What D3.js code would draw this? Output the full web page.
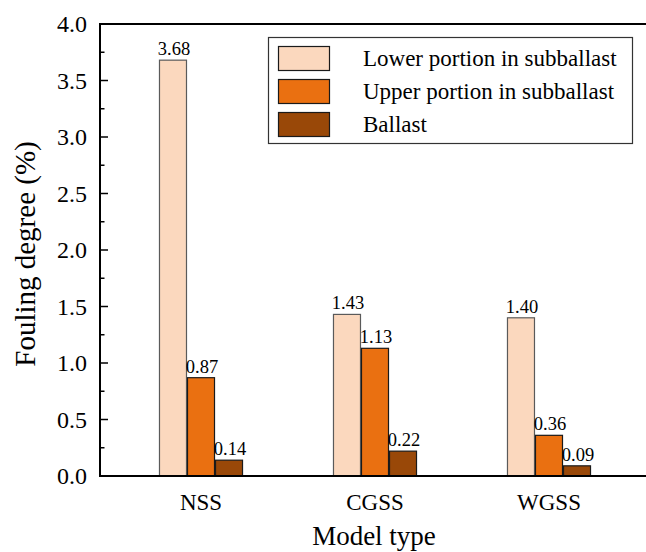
<!DOCTYPE html>
<html>
<head>
<meta charset="utf-8">
<script src="https://cdn.jsdelivr.net/npm/d3@7"></script>
<style>
  body { margin: 0; background: #fff; }
  svg { display: block; font-family: "Liberation Serif", "Times New Roman", serif; }
</style>
</head>
<body>
<svg id="chart" width="646" height="552"></svg>
<script>
const categories = ["NSS", "CGSS", "WGSS"];
const seriesNames = ["Lower portion in subballast", "Upper portion in subballast", "Ballast"];
const lowerValues = [3.68, 1.43, 1.40];
const upperValues = [0.87, 1.13, 0.36];
const ballastValues = [0.14, 0.22, 0.09];
const valueLabels = [["3.68", "1.43", "1.40"], ["0.87", "1.13", "0.36"], ["0.14", "0.22", "0.09"]];
const yTicks = [0, 0.5, 1, 1.5, 2, 2.5, 3, 3.5, 4];
const yMinorTicks = [0.25, 0.75, 1.25, 1.75, 2.25, 2.75, 3.25, 3.75];

const colors = ["#fbd8be", "#ea7011", "#994808"];
const strokes = ["#5a5a5a", "#1a1a1a", "#1a1a1a"];

const svg = d3.select("#chart");
const plotLeft = 100, plotTop = 24, plotBottom = 476, plotRight = 650;

const y = d3.scaleLinear().domain([0, 4]).range([plotBottom, plotTop]);
const x0 = d3.scaleBand().domain(categories).range([plotLeft, plotRight])
  .paddingInner(0.517).paddingOuter(0.339);
const x1 = d3.scaleBand().domain([0, 1, 2]).range([0, x0.bandwidth()]);

const rows = categories.map((c, i) => ({
  cat: c,
  vals: [lowerValues[i], upperValues[i], ballastValues[i]],
  idx: i
}));

// bars
const groups = svg.append("g").selectAll("g")
  .data(rows)
  .join("g")
  .attr("transform", d => `translate(${x0(d.cat)},0)`);

groups.selectAll("rect")
  .data(d => d.vals.map((v, s) => ({ v, s, i: d.idx })))
  .join("rect")
  .attr("x", d => x1(d.s) + 0.5)
  .attr("y", d => y(d.v))
  .attr("width", x1.bandwidth() - 1)
  .attr("height", d => y(0) - y(d.v))
  .attr("fill", d => colors[d.s])
  .attr("stroke", d => strokes[d.s])
  .attr("stroke-width", 1.2);

groups.selectAll("text")
  .data(d => d.vals.map((v, s) => ({ v, s, i: d.idx })))
  .join("text")
  .attr("x", d => x1(d.s) + x1.bandwidth() / 2 + 1)
  .attr("y", d => y(d.v) - 5)
  .attr("text-anchor", "middle")
  .attr("font-size", 18.5)
  .attr("fill", "#000")
  .text(d => valueLabels[d.s][d.i]);

// axes
const axisG = svg.append("g");
axisG.append("line").attr("x1", plotLeft).attr("x2", 646).attr("y1", plotBottom).attr("y2", plotBottom)
  .attr("stroke", "#000").attr("stroke-width", 2);
axisG.append("line").attr("x1", plotLeft).attr("x2", 646).attr("y1", plotTop).attr("y2", plotTop)
  .attr("stroke", "#000").attr("stroke-width", 2);
axisG.append("line").attr("x1", plotLeft).attr("x2", plotLeft).attr("y1", plotTop - 1).attr("y2", plotBottom + 1)
  .attr("stroke", "#000").attr("stroke-width", 2);

axisG.selectAll(".major").data(yTicks).join("line")
  .attr("x1", plotLeft).attr("x2", plotLeft + 8)
  .attr("y1", d => y(d)).attr("y2", d => y(d))
  .attr("stroke", "#000").attr("stroke-width", 1.5);
axisG.selectAll(".minor").data(yMinorTicks).join("line")
  .attr("x1", plotLeft).attr("x2", plotLeft + 4.5)
  .attr("y1", d => y(d)).attr("y2", d => y(d))
  .attr("stroke", "#000").attr("stroke-width", 1.5);

axisG.selectAll(".ylab").data(yTicks).join("text")
  .attr("x", plotLeft - 13)
  .attr("y", d => y(d) + 8)
  .attr("text-anchor", "end")
  .attr("font-size", 24)
  .attr("fill", "#000")
  .text(d => d3.format(".1f")(d));

axisG.selectAll(".xlab").data(categories).join("text")
  .attr("x", d => x0(d) + x0.bandwidth() / 2)
  .attr("y", 510)
  .attr("text-anchor", "middle")
  .attr("font-size", 23)
  .attr("fill", "#000")
  .text(d => d);

svg.append("text")
  .attr("x", 374).attr("y", 545)
  .attr("text-anchor", "middle")
  .attr("font-size", 27)
  .attr("fill", "#000")
  .text("Model type");

svg.append("text")
  .attr("transform", "translate(35,254) rotate(-90)")
  .attr("text-anchor", "middle")
  .attr("font-size", 29)
  .attr("fill", "#000")
  .text("Fouling degree (%)");

// legend
const legend = svg.append("g");
legend.append("rect")
  .attr("x", 268.5).attr("y", 37.5).attr("width", 364).attr("height", 106)
  .attr("fill", "#fff").attr("stroke", "#333").attr("stroke-width", 1.2);
const items = legend.selectAll(".item").data(seriesNames).join("g")
  .attr("transform", (d, i) => `translate(0,${46 + i * 33})`);
items.append("rect")
  .attr("x", 278.5).attr("y", 0.5).attr("width", 51).attr("height", 24)
  .attr("fill", (d, i) => colors[i])
  .attr("stroke", "#1a1a1a").attr("stroke-width", 1.2);
items.append("text")
  .attr("x", 363).attr("y", 20)
  .attr("font-size", 23)
  .attr("fill", "#000")
  .text(d => d);
</script>
</body>
</html>
